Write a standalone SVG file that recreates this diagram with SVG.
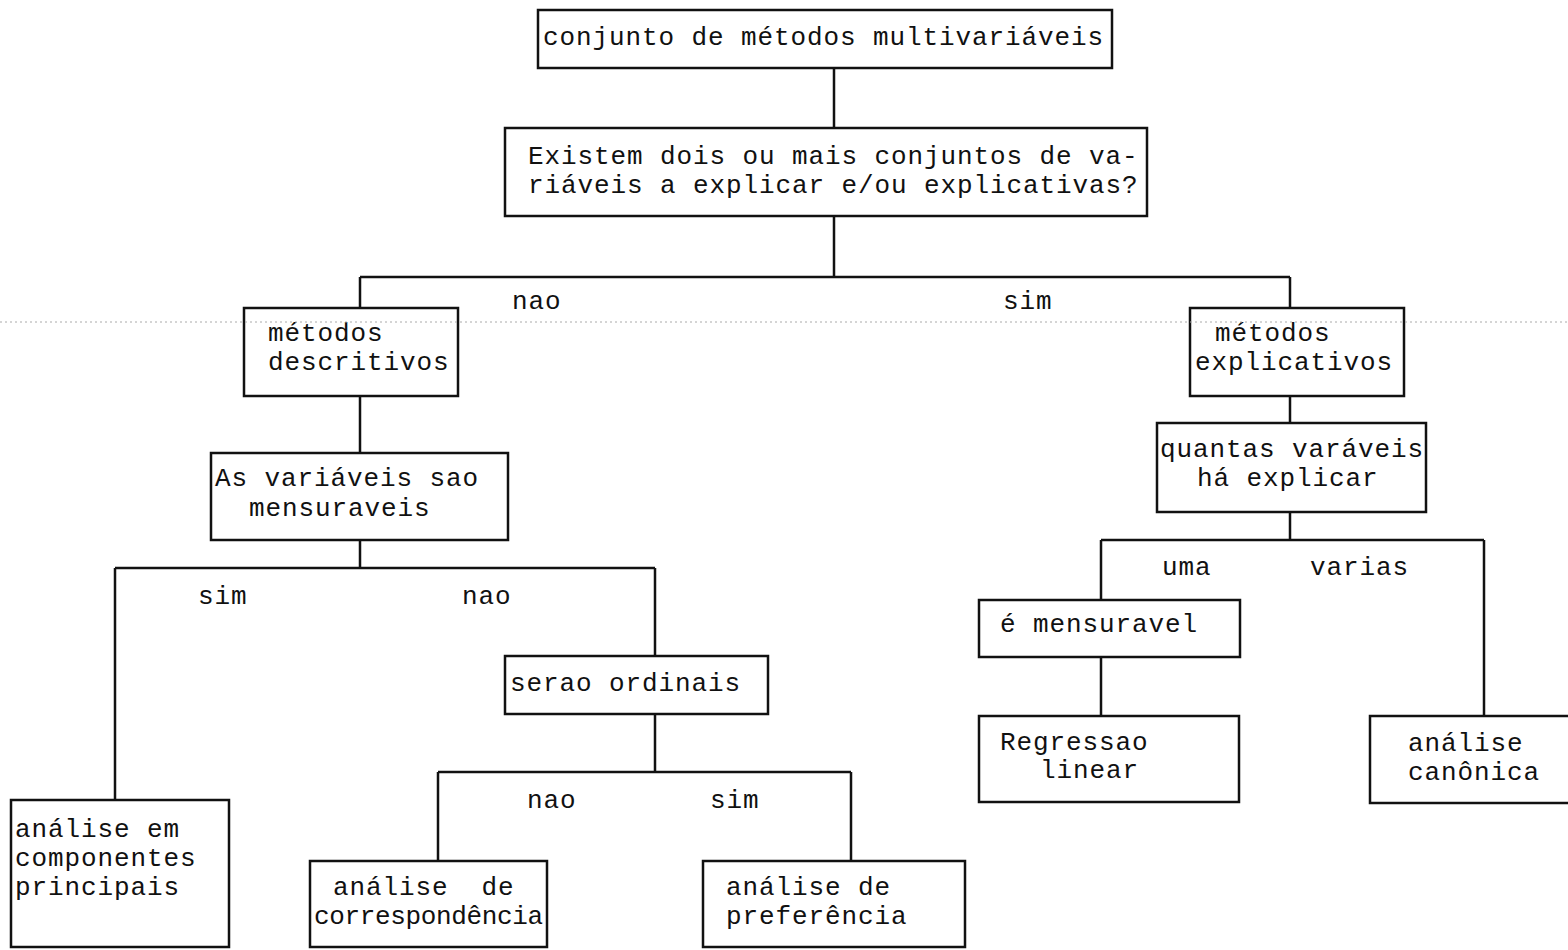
<svg xmlns="http://www.w3.org/2000/svg" width="1568" height="950" viewBox="0 0 1568 950">
<style>
.box{fill:#fff;stroke:#111;stroke-width:2.5}
.ln{fill:none;stroke:#111;stroke-width:2.5}
text{font-family:"Liberation Mono","DejaVu Sans Mono",monospace;font-size:26px;letter-spacing:0.9px;fill:#111}
.scan{stroke:#aaa;stroke-width:1;stroke-dasharray:2 3}
</style>
<rect width="1568" height="950" fill="#fff"/>
<g id="connectors">
<path class="ln" d="M834 68V128M834 216V277M360 277H1290M360 277V308M1290 277V308"/>
<path class="ln" d="M360 396V453M360 540V568M115 568H655M115 568V800M655 568V656"/>
<path class="ln" d="M655 714V772M438 772H851M438 772V861M851 772V861"/>
<path class="ln" d="M1290 396V423M1290 512V540M1101 540H1484M1101 540V600M1484 540V716M1101 657V716"/>
<text x="512" y="309">nao</text>
<text x="1003" y="309">sim</text>
<text x="198" y="604">sim</text>
<text x="462" y="604">nao</text>
<text x="527" y="808">nao</text>
<text x="710" y="808">sim</text>
<text x="1162" y="575">uma</text>
<text x="1310" y="575">varias</text>
</g>
<g id="n1"><rect class="box" x="538" y="10" width="574" height="58"/><text x="543" y="45">conjunto de métodos multivariáveis</text></g>
<g id="n2"><rect class="box" x="505" y="128" width="642" height="88"/><text x="528" y="164">Existem dois ou mais conjuntos de va-</text><text x="528" y="193">riáveis a explicar e/ou explicativas?</text></g>
<g id="n3"><rect class="box" x="244" y="308" width="214" height="88"/><text x="268" y="341">métodos</text><text x="268" y="370">descritivos</text></g>
<g id="n4"><rect class="box" x="1190" y="308" width="214" height="88"/><text x="1215" y="341">métodos</text><text x="1195" y="370">explicativos</text></g>
<g id="n5"><rect class="box" x="211" y="453" width="297" height="87"/><text x="215" y="486">As variáveis sao</text><text x="249" y="516">mensuraveis</text></g>
<g id="n6"><rect class="box" x="1157" y="423" width="269" height="89"/><text x="1160" y="457">quantas varáveis</text><text x="1197" y="486">há explicar</text></g>
<g id="n7"><rect class="box" x="505" y="656" width="263" height="58"/><text x="510" y="691">serao ordinais</text></g>
<g id="n8"><rect class="box" x="979" y="600" width="261" height="57"/><text x="1000" y="632">é mensuravel</text></g>
<g id="n9"><rect class="box" x="979" y="716" width="260" height="86"/><text x="1000" y="750">Regressao</text><text x="1040" y="778">linear</text></g>
<g id="n10"><rect class="box" x="1370" y="716" width="210" height="87"/><text x="1408" y="751">análise</text><text x="1408" y="780">canônica</text></g>
<g id="n11"><rect class="box" x="11" y="800" width="218" height="147"/><text x="15" y="837">análise em</text><text x="15" y="866">componentes</text><text x="15" y="895">principais</text></g>
<g id="n12"><rect class="box" x="310" y="861" width="237" height="86"/><text x="333" y="895" xml:space="preserve">análise  de</text><text x="314" y="924" textLength="230" lengthAdjust="spacing">correspondência</text></g>
<g id="n13"><rect class="box" x="703" y="861" width="262" height="86"/><text x="726" y="895">análise de</text><text x="726" y="924">preferência</text></g>
<line class="scan" x1="0" y1="322" x2="1568" y2="322"/>
</svg>
